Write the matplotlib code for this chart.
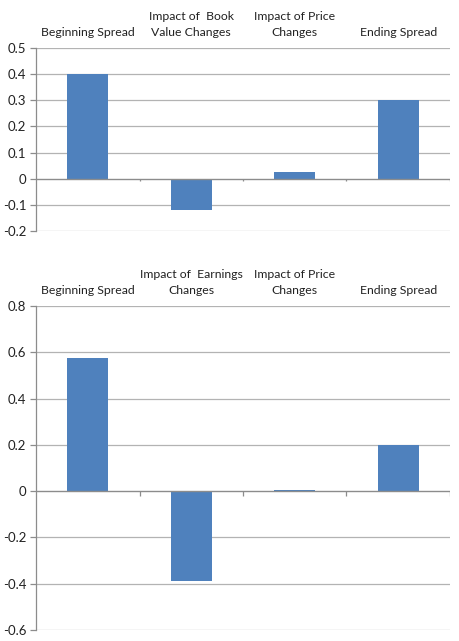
import matplotlib
matplotlib.use("Agg")
import matplotlib.pyplot as plt
import numpy as np

plt.rcParams['font.family'] = ['Lato', 'DejaVu Sans']

cats_top = ["Beginning Spread", "Impact of  Book\nValue Changes", "Impact of Price\nChanges", "Ending Spread"]
vals_top = [0.40, -0.12, 0.027, 0.30]
yticks_top = [-0.2, -0.1, 0, 0.1, 0.2, 0.3, 0.4, 0.5]
yticklabels_top = ["-0.2", "-0.1", "0", "0.1", "0.2", "0.3", "0.4", "0.5"]

cats_bot = ["Beginning Spread", "Impact of  Earnings\nChanges", "Impact of Price\nChanges", "Ending Spread"]
vals_bot = [0.575, -0.388, 0.004, 0.20]
yticks_bot = [-0.6, -0.4, -0.2, 0, 0.2, 0.4, 0.6, 0.8]
yticklabels_bot = ["-0.6", "-0.4", "-0.2", "0", "0.2", "0.4", "0.6", "0.8"]

bar_color = "#4F81BD"
grid_color = "#B3B3B3"
axis_color = "#8C8C8C"

fig = plt.figure(figsize=(4.6, 6.41), dpi=100)
ax1 = fig.add_axes([36/460, 1-231/641, 414/460, 183/641])
ax2 = fig.add_axes([36/460, 1-630/641, 414/460, 324/641])

def draw(ax, cats, vals, yticks, yticklabels):
    x = np.arange(len(cats))
    ax.set_xlim(-0.5, len(cats) - 0.5)
    ax.set_ylim(yticks[0], yticks[-1])
    for t in yticks:
        if t != 0:
            ax.axhline(t, color=grid_color, lw=0.9, zorder=0)
    ax.bar(x, vals, width=0.4, color=bar_color, zorder=2)
    ax.axhline(0, color=axis_color, lw=1.0, zorder=3)
    span = yticks[-1] - yticks[0]
    bounds = np.arange(len(cats) + 1) - 0.5
    ax.vlines(bounds[1:], 0, -span * 0.015, color=axis_color, lw=0.9, zorder=3)
    ax.set_yticks(yticks)
    ax.set_yticklabels(yticklabels)
    ax.set_xticks(x)
    ax.set_xticklabels(cats, linespacing=1.5)
    ax.tick_params(axis='x', top=False, bottom=False, labeltop=True, labelbottom=False,
                   pad=3.8, labelsize=8.8, colors='#222222')
    ax.tick_params(axis='y', length=4, width=0.9, color=axis_color, labelsize=9.5,
                   labelcolor='#222222', pad=3)
    for lab in ax.get_xticklabels():
        lab.set_verticalalignment('bottom')
    for s in ['top', 'right', 'bottom']:
        ax.spines[s].set_visible(False)
    ax.spines['left'].set_color(axis_color)
    ax.spines['left'].set_linewidth(0.9)

draw(ax1, cats_top, vals_top, yticks_top, yticklabels_top)
draw(ax2, cats_bot, vals_bot, yticks_bot, yticklabels_bot)

fig.savefig("out.png", dpi=100)
